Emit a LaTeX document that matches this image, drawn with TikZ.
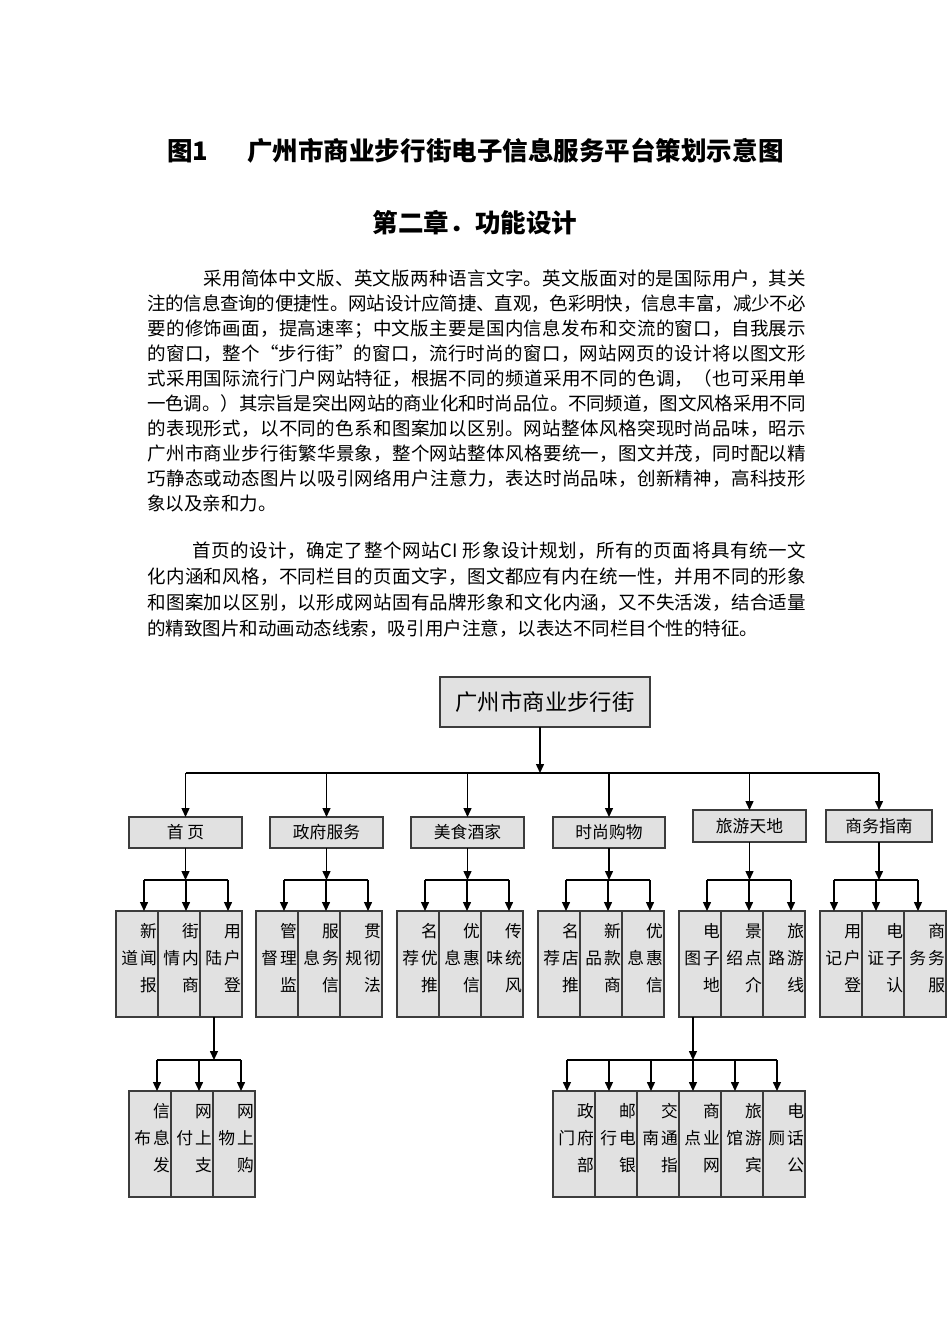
\documentclass[tikz,border=0pt]{standalone}
\usepackage{fontspec}
\usepackage{tikz}
\usetikzlibrary{arrows.meta,positioning}
\newfontfamily\cjk{Noto Sans CJK SC}
\XeTeXlinebreaklocale "zh"
\XeTeXlinebreakskip=0pt plus 1pt minus 0.4pt
\definecolor{boxgray}{HTML}{E1E1E1}
\definecolor{edgegray}{HTML}{3C3C3C}
\newdimen\px \px=0.6266pt
% upright text in a narrow box: one char on top, two in the middle, one below
\newcommand{\vtxt}[4]{\parbox[c][106\px][t]{40\px}{\raggedleft
  \rule{0pt}{26\px}#1\\#2\hspace{2\px}#3\\#4}}

\begin{document}
\begin{tikzpicture}[
  x=0.6266pt, y=-0.6266pt,
  font=\cjk,
  hbox/.style={draw=edgegray,line width=1pt,fill=boxgray,inner sep=0pt,outer sep=0pt,
               minimum height=31\px,font=\cjk\fontsize{10.5pt}{12pt}\selectfont},
  rootbox/.style={hbox,minimum width=210\px,minimum height=50\px,
               font=\cjk\fontsize{14pt}{16pt}\selectfont},
  leaf/.style={draw=edgegray,line width=1pt,fill=boxgray,inner sep=0pt,outer sep=0pt,
               minimum width=42\px,minimum height=106\px,
               font=\cjk\fontsize{10.5pt}{27\px}\selectfont},
  head/.style={inner sep=0pt,font=\cjk\bfseries\fontsize{16pt}{18pt}\selectfont},
  body/.style={inner sep=0pt,text width=659\px,align=justify},
  arr/.style={-{Triangle[length=5.6pt,width=5pt]},line width=0.8pt},
  bus/.style={line width=0.8pt}
]
  \useasboundingbox (0,0) rectangle (950,1344);

  % page text
  \node[head,anchor=base west] (fig) at (167,160) {图1};
  \node[head,anchor=base west] (title) at (247,160) {广州市商业步行街电子信息服务平台策划示意图};
  \node[head,anchor=base] (chap) at (475,232) {第二章．功能设计};

  \node[body,anchor=base west,font=\cjk\fontsize{11.6pt}{25.1\px}\selectfont] (para1) at (147,285)
  {\hspace*{56\px}采用简体中文版、英文版两种语言文字。英文版面对的是国际用户，其关\linebreak
注的信息查询的便捷性。网站设计应简捷、直观，色彩明快，信息丰富，减少不必\linebreak
要的修饰画面，提高速率；中文版主要是国内信息发布和交流的窗口，自我展示\linebreak
的窗口，整个“步行街”的窗口，流行时尚的窗口，网站网页的设计将以图文形\linebreak
式采用国际流行门户网站特征，根据不同的频道采用不同的色调，（也可采用单\linebreak
一色调。）其宗旨是突出网站的商业化和时尚品位。不同频道，图文风格采用不同\linebreak
的表现形式，以不同的色系和图案加以区别。网站整体风格突现时尚品味，昭示\linebreak
广州市商业步行街繁华景象，整个网站整体风格要统一，图文并茂，同时配以精\linebreak
巧静态或动态图片以吸引网络用户注意力，表达时尚品味，创新精神，高科技形\linebreak
象以及亲和力。};

  \node[body,anchor=base west,font=\cjk\fontsize{11.6pt}{26\px}\selectfont] (para2) at (147,557)
  {\hspace*{45\px}首页的设计，确定了整个网站CI 形象设计规划，所有的页面将具有统一文\linebreak
化内涵和风格，不同栏目的页面文字，图文都应有内在统一性，并用不同的形象\linebreak
和图案加以区别，以形成网站固有品牌形象和文化内涵，又不失活泼，结合适量\linebreak
的精致图片和动画动态线索，吸引用户注意，以表达不同栏目个性的特征。};

  % top of the chart
  \node[rootbox] (gz) at (545,702) {广州市商业步行街};
  \coordinate (lv1) at (540,773);
  \coordinate (lv2) at (0,880);
  \coordinate (lv3) at (0,1060);

  \node[hbox,minimum width=113\px] (home) at (185.5,832.5) {首~页};
  \node[hbox,minimum width=113\px] (gov)  at (326.5,832.5) {政府服务};
  \node[hbox,minimum width=113\px] (food) at (467.5,832.5) {美食酒家};
  \node[hbox,minimum width=112\px] (shop) at (609,832.5) {时尚购物};
  \node[hbox,minimum width=113\px,minimum height=32\px] (tour) at (749.5,826) {旅游天地};
  \node[hbox,minimum width=106\px,minimum height=32\px] (biz)  at (879,826) {商务指南};

  \draw[arr] (gz.south -| lv1) -- (lv1);
  \draw[bus] (home.north |- lv1) -- (biz.north |- lv1);
  \draw[arr] (home.north |- lv1) -- (home.north);
  \draw[arr] (gov.north |- lv1) -- (gov.north);
  \draw[arr] (food.north |- lv1) -- (food.north);
  \draw[arr] (shop.north |- lv1) -- (shop.north);
  \draw[arr] (tour.north |- lv1) -- (tour.north);
  \draw[arr] (biz.north |- lv1) -- (biz.north);

  % second row of boxes
  \node[leaf,anchor=north west] (home1) at (116,911) {\vtxt{新}{道}{闻}{报}};
  \node[leaf,right=0pt of home1] (home2) {\vtxt{街}{情}{内}{商}};
  \node[leaf,right=0pt of home2] (home3) {\vtxt{用}{陆}{户}{登}};

  \node[leaf,anchor=north west] (gov1) at (256,911) {\vtxt{管}{督}{理}{监}};
  \node[leaf,right=0pt of gov1] (gov2) {\vtxt{服}{息}{务}{信}};
  \node[leaf,right=0pt of gov2] (gov3) {\vtxt{贯}{规}{彻}{法}};

  \node[leaf,anchor=north west] (food1) at (397,911) {\vtxt{名}{荐}{优}{推}};
  \node[leaf,right=0pt of food1] (food2) {\vtxt{优}{息}{惠}{信}};
  \node[leaf,right=0pt of food2] (food3) {\vtxt{传}{味}{统}{风}};

  \node[leaf,anchor=north west] (shop1) at (538,911) {\vtxt{名}{荐}{店}{推}};
  \node[leaf,right=0pt of shop1] (shop2) {\vtxt{新}{品}{款}{商}};
  \node[leaf,right=0pt of shop2] (shop3) {\vtxt{优}{息}{惠}{信}};

  \node[leaf,anchor=north west] (tour1) at (679,911) {\vtxt{电}{图}{子}{地}};
  \node[leaf,right=0pt of tour1] (tour2) {\vtxt{景}{绍}{点}{介}};
  \node[leaf,right=0pt of tour2] (tour3) {\vtxt{旅}{路}{游}{线}};

  \node[leaf,anchor=north west] (biz1) at (820,911) {\vtxt{用}{记}{户}{登}};
  \node[leaf,right=0pt of biz1] (biz2) {\vtxt{电}{证}{子}{认}};
  \node[leaf,right=0pt of biz2] (biz3) {\vtxt{商}{务}{务}{服}};

  \draw[arr] (home) -- (home |- lv2);
  \draw[bus] ([xshift=4.4pt]home1.north |- lv2) -- ([xshift=4.4pt]home3.north |- lv2);
  \draw[arr] ([xshift=4.4pt]home1.north |- lv2) -- ([xshift=4.4pt]home1.north);
  \draw[arr] ([xshift=4.4pt]home2.north |- lv2) -- ([xshift=4.4pt]home2.north);
  \draw[arr] ([xshift=4.4pt]home3.north |- lv2) -- ([xshift=4.4pt]home3.north);

  \draw[arr] (gov) -- (gov |- lv2);
  \draw[bus] ([xshift=4.4pt]gov1.north |- lv2) -- ([xshift=4.4pt]gov3.north |- lv2);
  \draw[arr] ([xshift=4.4pt]gov1.north |- lv2) -- ([xshift=4.4pt]gov1.north);
  \draw[arr] ([xshift=4.4pt]gov2.north |- lv2) -- ([xshift=4.4pt]gov2.north);
  \draw[arr] ([xshift=4.4pt]gov3.north |- lv2) -- ([xshift=4.4pt]gov3.north);

  \draw[arr] (food) -- (food |- lv2);
  \draw[bus] ([xshift=4.4pt]food1.north |- lv2) -- ([xshift=4.4pt]food3.north |- lv2);
  \draw[arr] ([xshift=4.4pt]food1.north |- lv2) -- ([xshift=4.4pt]food1.north);
  \draw[arr] ([xshift=4.4pt]food2.north |- lv2) -- ([xshift=4.4pt]food2.north);
  \draw[arr] ([xshift=4.4pt]food3.north |- lv2) -- ([xshift=4.4pt]food3.north);

  \draw[arr] (shop) -- (shop |- lv2);
  \draw[bus] ([xshift=4.4pt]shop1.north |- lv2) -- ([xshift=4.4pt]shop3.north |- lv2);
  \draw[arr] ([xshift=4.4pt]shop1.north |- lv2) -- ([xshift=4.4pt]shop1.north);
  \draw[arr] ([xshift=4.4pt]shop2.north |- lv2) -- ([xshift=4.4pt]shop2.north);
  \draw[arr] ([xshift=4.4pt]shop3.north |- lv2) -- ([xshift=4.4pt]shop3.north);

  \draw[arr] (tour) -- (tour |- lv2);
  \draw[bus] ([xshift=4.4pt]tour1.north |- lv2) -- ([xshift=4.4pt]tour3.north |- lv2);
  \draw[arr] ([xshift=4.4pt]tour1.north |- lv2) -- ([xshift=4.4pt]tour1.north);
  \draw[arr] ([xshift=4.4pt]tour2.north |- lv2) -- ([xshift=4.4pt]tour2.north);
  \draw[arr] ([xshift=4.4pt]tour3.north |- lv2) -- ([xshift=4.4pt]tour3.north);

  \draw[arr] (biz) -- (biz |- lv2);
  \draw[bus] ([xshift=-4.4pt]biz1.north |- lv2) -- ([xshift=-4.4pt]biz3.north |- lv2);
  \draw[arr] ([xshift=-4.4pt]biz1.north |- lv2) -- ([xshift=-4.4pt]biz1.north);
  \draw[arr] ([xshift=-4.4pt]biz2.north |- lv2) -- ([xshift=-4.4pt]biz2.north);
  \draw[arr] ([xshift=-4.4pt]biz3.north |- lv2) -- ([xshift=-4.4pt]biz3.north);

  % third row, under 用户登陆 and 电子地图
  \node[leaf,anchor=north west] (net1) at (129,1091) {\vtxt{信}{布}{息}{发}};
  \node[leaf,right=0pt of net1] (net2) {\vtxt{网}{付}{上}{支}};
  \node[leaf,right=0pt of net2] (net3) {\vtxt{网}{物}{上}{购}};

  \node[leaf,anchor=north west] (svc1) at (553,1091) {\vtxt{政}{门}{府}{部}};
  \node[leaf,right=0pt of svc1] (svc2) {\vtxt{邮}{行}{电}{银}};
  \node[leaf,right=0pt of svc2] (svc3) {\vtxt{交}{南}{通}{指}};
  \node[leaf,right=0pt of svc3] (svc4) {\vtxt{商}{点}{业}{网}};
  \node[leaf,right=0pt of svc4] (svc5) {\vtxt{旅}{馆}{游}{宾}};
  \node[leaf,right=0pt of svc5] (svc6) {\vtxt{电}{厕}{话}{公}};

  \draw[arr] ([xshift=-4.4pt]home3.south) -- ([xshift=-4.4pt]home3.south |- lv3);
  \draw[bus] ([xshift=4.4pt]net1.north |- lv3) -- ([xshift=4.4pt]net3.north |- lv3);
  \draw[arr] ([xshift=4.4pt]net1.north |- lv3) -- ([xshift=4.4pt]net1.north);
  \draw[arr] ([xshift=4.4pt]net2.north |- lv3) -- ([xshift=4.4pt]net2.north);
  \draw[arr] ([xshift=4.4pt]net3.north |- lv3) -- ([xshift=4.4pt]net3.north);

  \draw[arr] ([xshift=-4.4pt]tour1.south) -- ([xshift=-4.4pt]tour1.south |- lv3);
  \draw[bus] ([xshift=-4.4pt]svc1.north |- lv3) -- ([xshift=-4.4pt]svc6.north |- lv3);
  \draw[arr] ([xshift=-4.4pt]svc1.north |- lv3) -- ([xshift=-4.4pt]svc1.north);
  \draw[arr] ([xshift=-4.4pt]svc2.north |- lv3) -- ([xshift=-4.4pt]svc2.north);
  \draw[arr] ([xshift=-4.4pt]svc3.north |- lv3) -- ([xshift=-4.4pt]svc3.north);
  \draw[arr] ([xshift=-4.4pt]svc4.north |- lv3) -- ([xshift=-4.4pt]svc4.north);
  \draw[arr] ([xshift=-4.4pt]svc5.north |- lv3) -- ([xshift=-4.4pt]svc5.north);
  \draw[arr] ([xshift=-4.4pt]svc6.north |- lv3) -- ([xshift=-4.4pt]svc6.north);
\end{tikzpicture}
\end{document}
